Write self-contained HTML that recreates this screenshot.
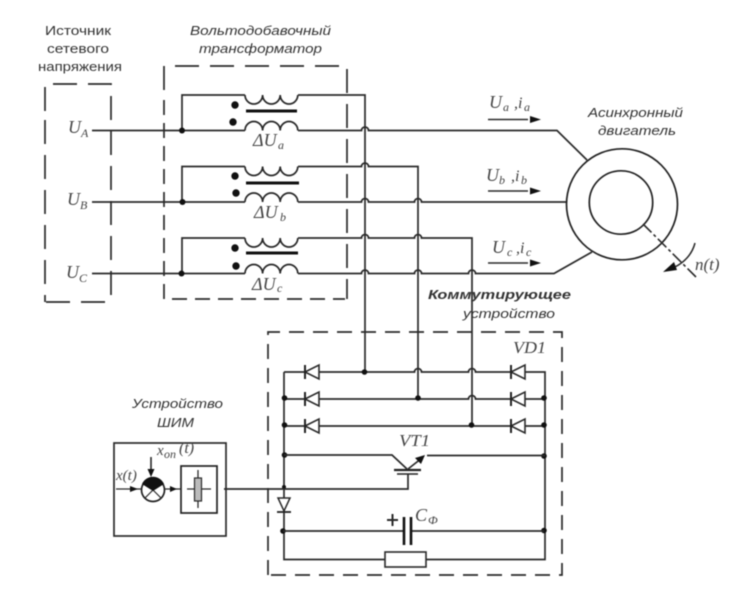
<!DOCTYPE html>
<html><head><meta charset="utf-8">
<style>
html,body{margin:0;padding:0;background:#fff;width:733px;height:602px;overflow:hidden}
svg{display:block;filter:blur(0.45px)}
.w{fill:none;stroke:#2a2a2a;stroke-width:1.7}
.d{fill:none;stroke:#2a2a2a;stroke-width:1.7}
.f{fill:#111;stroke:none}
.s{font-family:"Liberation Sans",sans-serif;font-size:13px;fill:#333}
.i{font-family:"Liberation Sans",sans-serif;font-size:13px;font-style:italic;fill:#333}
.m{font-family:"Liberation Serif",serif;font-size:18px;font-style:italic;fill:#444}
.u{font-family:"Liberation Serif",serif;font-size:12px;font-style:italic;fill:#444}
</style></head><body>
<svg width="733" height="602" viewBox="0 0 733 602" xmlns="http://www.w3.org/2000/svg">
<defs>
<g id="dio"><path d="M0 0L14 -7V7Z" fill="#fff" stroke="#2a2a2a" stroke-width="1.6"/><path d="M0 -7V7" stroke="#222" stroke-width="2"/></g>
<g id="up"><path d="M0 0a8.8 9 0 0 0 17.6 0a8.8 9 0 0 0 17.6 0a8.8 9 0 0 0 17.6 0" class="w"/></g>
<g id="dn"><path d="M0 0a8.8 9 0 0 1 17.6 0a8.8 9 0 0 1 17.6 0a8.8 9 0 0 1 17.6 0" class="w"/></g>
</defs>

<!-- dashed boxes -->
<path d="M45 111V84H111V302" class="d" stroke-dasharray="24 11"/>
<path d="M45 120V302" class="d" stroke-dasharray="24 11"/>
<path d="M46 302H108" class="d" stroke-dasharray="24 11"/>
<path d="M164 90V66H347V299" class="d" stroke-dasharray="24 11"/>
<path d="M164 100V299H345" class="d" stroke-dasharray="15 8"/>
<path d="M268 575V332H562V575H268" class="d" stroke-dasharray="15 9"/>

<!-- phase A -->
<path d="M92 130.5H245M298 130.5H361.5a3.5 3.5 0 0 1 7 0H557L587 160" class="w"/>
<path d="M182 130.5V95H245M298 95H365V370" class="w"/>
<use href="#up" x="245" y="95"/><use href="#dn" x="245" y="130.5"/>
<path d="M246 111H297" stroke="#111" stroke-width="3"/>
<circle cx="182" cy="130.5" r="3" class="f"/><circle cx="235" cy="105" r="3.7" class="f"/><circle cx="233" cy="122" r="3.7" class="f"/>

<!-- phase B -->
<path d="M92 202H245M298 202H361.5a3.5 3.5 0 0 1 7 0H414.5a3.5 3.5 0 0 1 7 0H567" class="w"/>
<path d="M182 202V166.5H245M298 166.5H361.5a3.5 3.5 0 0 1 7 0H418V397" class="w"/>
<use href="#up" x="245" y="166.5"/><use href="#dn" x="245" y="202"/>
<path d="M246 183H299" stroke="#111" stroke-width="3"/>
<circle cx="182.5" cy="202" r="3" class="f"/><circle cx="235" cy="176" r="3.7" class="f"/><circle cx="236" cy="193" r="3.7" class="f"/>

<!-- phase C -->
<path d="M92 273.5H245M298 273.5H361.5a3.5 3.5 0 0 1 7 0H414.5a3.5 3.5 0 0 1 7 0H468.5a3.5 3.5 0 0 1 7 0H554L592 252" class="w"/>
<path d="M182 273.5V238H245M298 238H361.5a3.5 3.5 0 0 1 7 0H414.5a3.5 3.5 0 0 1 7 0H472V425" class="w"/>
<use href="#up" x="245" y="238"/><use href="#dn" x="245" y="273.5"/>
<path d="M246 253H298" stroke="#111" stroke-width="3"/>
<circle cx="181.5" cy="273.5" r="3" class="f"/><circle cx="235" cy="248" r="3.7" class="f"/><circle cx="236" cy="266" r="3.7" class="f"/>

<!-- arrows -->
<path d="M488 119.5H528M488 191H528M488 263H528" stroke="#2a2a2a" stroke-width="1.6"/>
<path d="M541 119.5L530 116V123ZM541 191L530 187.5V194.5ZM541 263L530 259.5V266.5Z" class="f"/>

<!-- motor -->
<circle cx="622" cy="204.3" r="55.5" fill="#fff" stroke="#222" stroke-width="1.7"/>
<circle cx="621" cy="202.5" r="31.7" fill="#fff" stroke="#222" stroke-width="1.7"/>
<path d="M643 224L696 277" stroke="#2a2a2a" stroke-width="1.6" stroke-dasharray="12 3 3 3"/>
<path d="M695 243Q690 262 668 270" fill="none" stroke="#2a2a2a" stroke-width="1.5"/>
<path d="M663 272L674 262L677 270Z" class="f"/>

<!-- rectifier -->
<path d="M284 372H414.5a3.5 3.5 0 0 1 7 0H468.5a3.5 3.5 0 0 1 7 0H545V559.5H426M385 559.5H284V372" class="w"/>
<path d="M284 399H468.5a3.5 3.5 0 0 1 7 0H545" class="w"/>
<path d="M284 426H545" class="w"/>
<use href="#dio" x="305" y="372"/><use href="#dio" x="511" y="372"/>
<use href="#dio" x="305" y="399"/><use href="#dio" x="511" y="399"/>
<use href="#dio" x="305" y="426"/><use href="#dio" x="511" y="426"/>
<g class="f">
<circle cx="364.5" cy="372" r="2.8"/><circle cx="418" cy="398" r="2.8"/><circle cx="471.5" cy="425" r="2.8"/>
<circle cx="284.5" cy="398" r="2.8"/><circle cx="284.5" cy="425" r="2.8"/><circle cx="544" cy="398" r="2.8"/><circle cx="544" cy="425" r="2.8"/>
<circle cx="284.5" cy="455" r="2.8"/><circle cx="544" cy="456" r="2.8"/><circle cx="283" cy="531" r="2.8"/><circle cx="544" cy="530.5" r="2.8"/><circle cx="284" cy="487" r="2"/>
</g>

<!-- VT1 -->
<path d="M284 455H392L407 469M427 455.5H545" class="w"/>
<path d="M408 469L422 458" class="w"/>
<path d="M425 455L415 458L421 464Z" class="f"/>
<path d="M394 470H421" stroke="#222" stroke-width="2.2"/>
<path d="M397 474H418" stroke="#222" stroke-width="1.6"/>
<path d="M408 474V489H224" class="w"/>

<!-- vertical diode -->
<path d="M278 498H290L284 511Z" fill="#fff" stroke="#2a2a2a" stroke-width="1.5"/>
<path d="M277 512H291" stroke="#222" stroke-width="1.8"/>

<!-- capacitor -->
<path d="M283 531H403M412 531H544" class="w"/>
<path d="M404 517V545M411 517V545" stroke="#111" stroke-width="2.6"/>
<path d="M387 520H398M392.500 514V526" stroke="#2a2a2a" stroke-width="2"/>
<rect x="385" y="552" width="41" height="15" fill="#fff" stroke="#2a2a2a" stroke-width="1.6"/>

<!-- PWM -->
<rect x="114" y="443" width="112" height="93" fill="none" stroke="#2a2a2a" stroke-width="1.7"/>
<rect x="181" y="466" width="36" height="47" fill="none" stroke="#222" stroke-width="1.7"/>
<path d="M116 489H141M165 489H181M187 489H211" stroke="#2a2a2a" stroke-width="1.3"/>
<path d="M138 489L130 486V492ZM177 489L170 486V492Z" class="f"/>
<path d="M198 470V508" stroke="#2a2a2a" stroke-width="1.3"/>
<rect x="194.500" y="478" width="7" height="23" fill="#bbb" stroke="#2a2a2a" stroke-width="1.2"/>
<circle cx="153" cy="490" r="11.500" fill="#fff" stroke="#222" stroke-width="1.7"/>
<path d="M145 482L161 498M161 482L145 498" stroke="#2a2a2a" stroke-width="1.2"/>
<path d="M142 484A12 12 0 0 1 164 484L153 491Z" class="f"/>
<path d="M151 457V472" stroke="#2a2a2a" stroke-width="1.6"/>
<path d="M151 477L147.500 469H154.500Z" class="f"/>

<!-- Labels -->
<text class="s" x="45" y="35" textLength="66" lengthAdjust="spacingAndGlyphs">Источник</text>
<text class="s" x="47" y="53" textLength="62" lengthAdjust="spacingAndGlyphs">сетевого</text>
<text class="s" x="38" y="71" textLength="84" lengthAdjust="spacingAndGlyphs">напряжения</text>
<text class="i" x="190" y="35" textLength="141" lengthAdjust="spacingAndGlyphs">Вольтодобавочный</text>
<text class="i" x="199" y="53" textLength="123" lengthAdjust="spacingAndGlyphs">трансформатор</text>
<text class="i" x="588" y="117" textLength="95" lengthAdjust="spacingAndGlyphs">Асинхронный</text>
<text class="i" x="598" y="135" textLength="78" lengthAdjust="spacingAndGlyphs">двигатель</text>
<text class="i" x="428" y="299" textLength="143" lengthAdjust="spacingAndGlyphs" style="font-weight:bold">Коммутирующее</text>
<text class="i" x="463" y="318" textLength="92" lengthAdjust="spacingAndGlyphs">устройство</text>
<text class="i" x="132" y="408" textLength="91" lengthAdjust="spacingAndGlyphs">Устройство</text>
<text class="i" x="157" y="427" textLength="37" lengthAdjust="spacingAndGlyphs">ШИМ</text>

<text class="m" x="68" y="133">U</text><text class="u" x="81" y="137">A</text>
<text class="m" x="67" y="205">U</text><text class="u" x="80" y="209">B</text>
<text class="m" x="66" y="278">U</text><text class="u" x="79" y="282">C</text>
<text class="m" x="253" y="146">ΔU</text><text class="u" x="278" y="149">a</text>
<text class="m" x="254" y="218">ΔU</text><text class="u" x="280" y="221">b</text>
<text class="m" x="252" y="290">ΔU</text><text class="u" x="277" y="292">c</text>

<text class="m" x="489" y="108">U</text><text class="u" x="503" y="111">a</text><text class="m" x="514" y="108" style="font-size:16px">,i</text><text class="u" x="524" y="111">a</text>
<text class="m" x="486" y="181">U</text><text class="u" x="499" y="184">b</text><text class="m" x="511" y="181" style="font-size:16px">,i</text><text class="u" x="521" y="184">b</text>
<text class="m" x="492" y="253">U</text><text class="u" x="507" y="256">c</text><text class="m" x="516" y="253" style="font-size:16px">,i</text><text class="u" x="526" y="256">c</text>

<text class="m" x="695" y="270" style="font-size:17px">n(t)</text>
<text class="m" x="513" y="353" textLength="33" lengthAdjust="spacingAndGlyphs" style="font-size:17px">VD1</text>
<text class="m" x="399" y="446" textLength="31" lengthAdjust="spacingAndGlyphs" style="font-size:17px">VT1</text>
<text class="m" x="415" y="521">C</text><text class="u" x="428" y="524">Ф</text>
<text class="m" x="116" y="480" style="font-size:15px">x(t)</text>
<text class="m" x="157" y="455" style="font-size:15px">x</text><text class="u" x="164" y="458">оп</text><text class="m" x="179" y="453" style="font-size:16px">(t)</text>
</svg>
</body></html>
